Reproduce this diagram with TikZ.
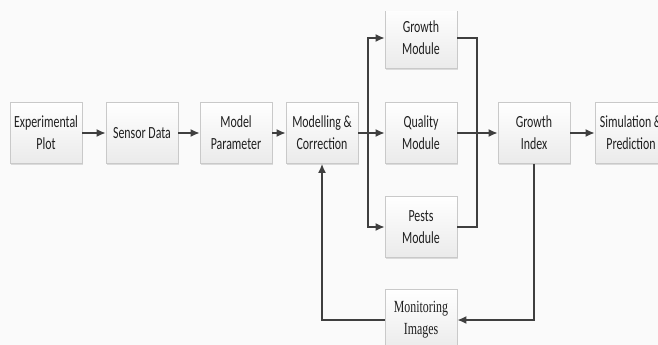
\documentclass[tikz,border=0pt]{standalone}
\usepackage{fontspec}
\setmainfont{Carlito}[FakeStretch=0.7]
\newfontfamily\monfont{Liberation Serif}[FakeStretch=0.7]
\usetikzlibrary{arrows.meta,shadows}
\definecolor{linecol}{HTML}{3F3F3F}
\definecolor{boxedge}{HTML}{C9C9C9}
\tikzset{
  blockbox/.style={draw=boxedge, line width=0.8pt, top color=white, bottom color=black!8,
    minimum width=72pt, minimum height=61pt, inner sep=1pt, align=center,
    font=\fontsize{17}{22}\selectfont, text=black!88,
    drop shadow={shadow xshift=1.2pt, shadow yshift=-1.2pt, opacity=0.25}},
  flow/.style={draw=linecol, line width=1.5pt, -{Latex[length=9pt,width=8pt]}},
  flowline/.style={draw=linecol, line width=1.5pt}
}
\begin{document}
\begin{tikzpicture}[x=1pt,y=-1pt]
\useasboundingbox (0,0) rectangle (658,345);
\fill[white!98!black] (0,0) rectangle (658,345);
\clip (0,12) rectangle (658,345);
% main row
\node[blockbox] (plot) at (46,133) {Experimental\\Plot};
\node[blockbox] (sensor) at (142,133) {Sensor Data};
\node[blockbox] (param) at (236,133) {Model\\Parameter};
\node[blockbox] (model) at (322,133) {Modelling \&\\Correction};
\node[blockbox] (growth) at (421,38) {Growth\\Module};
\node[blockbox] (quality) at (421,133) {Quality\\Module};
\node[blockbox] (pests) at (421,227) {Pests\\Module};
\node[blockbox] (index) at (534,133) {Growth\\Index};
\node[blockbox] (sim) at (631,133) {Simulation \&\\Prediction};
\node[blockbox, font=\monfont\fontsize{17}{22}\selectfont] (mon) at (421,320) {Monitoring\\Images};
% split and join points
\coordinate (split) at (368,133);
\coordinate (join) at (477,133);
% connectors
\draw[flow] (plot) -- (sensor);
\draw[flow] (sensor) -- (param);
\draw[flow] (param) -- (model);
\draw[flow] (model) -- (quality);
\draw[flow] (split) |- (growth);
\draw[flow] (split) |- (pests);
\draw[flowline] (growth.east) -| (join);
\draw[flowline] (pests.east) -| (join);
\draw[flow] (quality) -- (index);
\draw[flow] (index) -- (sim);
\draw[flow] (index.south) |- (mon.east);
\draw[flow] (mon.west) -| (model.south);
\end{tikzpicture}
\end{document}
